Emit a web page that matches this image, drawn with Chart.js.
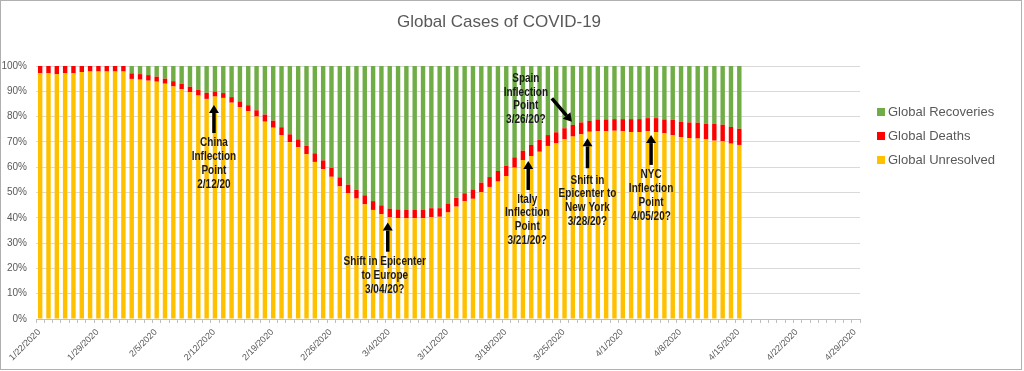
<!DOCTYPE html>
<html>
<head>
<meta charset="utf-8">
<script src="https://cdn.jsdelivr.net/npm/chart.js@4.4.0/dist/chart.umd.min.js"></script>
<style>
  html, body { margin: 0; padding: 0; background: #fff; }
  #wrap { width: 1024px; height: 371px; position: relative; }
</style>
</head>
<body>
<div id="wrap"><canvas id="chart"></canvas></div>
<script>
// days on the axis: 1/22/2020 .. 4/29/2020
let days = []
for (let d = new Date(2020, 0, 22); d <= new Date(2020, 3, 29); d.setDate(d.getDate() + 1)) {
    days.push((d.getMonth() + 1) + '/' + d.getDate() + '/2020')
}
let tickLabels = ['1/22/2020', '1/29/2020', '2/5/2020', '2/12/2020', '2/19/2020', '2/26/2020', '3/4/2020',
    '3/11/2020', '3/18/2020', '3/25/2020', '4/1/2020', '4/8/2020', '4/15/2020', '4/22/2020', '4/29/2020']

// percent of cases, 1/22 .. 4/15
let unresolved = [97.1, 97.1, 96.7, 97.2, 97.1, 97.6, 97.8, 97.8, 97.8, 97.8, 97.8,
    94.9, 94.6, 94.2, 93.8, 93.0, 91.9, 90.8, 89.6, 88.3, 87.0, 87.9, 87.4, 85.5, 83.8, 82.1, 80.0, 78.0, 75.6,
    72.7, 69.9, 67.9, 65.1, 62.1, 59.2, 56.2, 52.4, 49.7, 47.6, 45.3, 43.1, 41.4, 40.2, 39.9, 39.8, 39.8, 39.8,
    40.3, 40.4, 42.1, 44.4, 46.6, 47.5, 50.1, 52.2, 54.3, 56.5, 59.8, 62.8, 64.4, 66.1, 68.4, 69.4, 71.0, 72.1,
    73.0, 74.0, 74.2, 74.2, 74.4, 74.2, 73.9, 73.9, 74.2, 73.9, 73.4, 72.7, 71.9, 71.5, 71.3, 71.0, 70.5, 70.2,
    69.3, 68.8]
let deaths = [2.9, 2.9, 3.3, 2.8, 2.9, 2.4, 2.2, 2.2, 2.2, 2.2, 2.2,
    2.2, 2.2, 2.2, 2.0, 2.0, 2.1, 2.2, 2.2, 2.3, 2.4, 2.0, 1.9, 2.2, 2.2, 2.4, 2.5, 2.8, 2.8,
    3.1, 3.1, 3.1, 3.3, 3.4, 3.5, 3.6, 3.6, 3.4, 3.5, 3.6, 3.5, 3.5, 3.4, 3.4, 3.4, 3.3, 3.4,
    3.5, 3.4, 3.5, 3.5, 3.1, 3.7, 3.8, 3.9, 4.2, 4.1, 4.1, 3.7, 4.4, 4.7, 4.3, 4.4, 4.4, 4.6,
    4.7, 4.3, 4.7, 4.7, 4.6, 4.8, 5.1, 5.1, 5.2, 5.5, 5.5, 6.0, 6.1, 6.2, 6.3, 6.2, 6.6, 6.6,
    6.6, 6.4]
let recoveries = [0, 0, 0, 0, 0, 0, 0, 0, 0, 0, 0,
    2.9, 3.2, 3.6, 4.2, 5.0, 6.0, 7.0, 8.2, 9.4, 10.6, 10.1, 10.7, 12.3, 14.0, 15.5, 17.5, 19.2, 21.6,
    24.2, 27.0, 29.0, 31.6, 34.5, 37.3, 40.2, 44.0, 46.9, 48.9, 51.1, 53.4, 55.1, 56.4, 56.7, 56.8, 56.9, 56.8,
    56.2, 56.2, 54.4, 52.1, 50.3, 48.8, 46.1, 43.9, 41.5, 39.4, 36.1, 33.5, 31.2, 29.2, 27.3, 26.2, 24.6, 23.3,
    22.3, 21.7, 21.1, 21.1, 21.0, 21.0, 21.0, 21.0, 20.6, 20.6, 21.1, 21.3, 22.0, 22.3, 22.4, 22.8, 22.9, 23.2,
    24.1, 24.8]

let notes = [
    { date: '2/12/2020', dx: -1, tip: 84.6, tail: 73.5, text: 69.7, tdx: -1, lines: ['China', 'Inflection', 'Point', '2/12/20'] },
    { date: '3/4/2020', dx: -2, tip: 38.1, tail: 26.6, text: 22.6, tdx: -5, lines: ['Shift in Epicenter', 'to Europe', '3/04/20?'] },
    { date: '3/21/2020', dx: -3, tip: 62.5, tail: 51.0, text: 47.4, tdx: -4, lines: ['Italy', 'Inflection', 'Point', '3/21/20?'] },
    { date: '3/26/2020', dx: -1, tip: 78.0, tail: 87.2, tailDx: -20, text: 95.1, tdx: -47, lines: ['Spain', 'Inflection', 'Point', '3/26/20?'] },
    { date: '3/28/2020', dx: -2, tip: 71.4, tail: 59.6, text: 54.9, tdx: -2, lines: ['Shift in', 'Epicenter to', 'New York', '3/28/20?'] },
    { date: '4/5/2020', dx: -5, tip: 72.7, tail: 60.9, text: 56.9, tdx: -5, lines: ['NYC', 'Inflection', 'Point', '4/05/20?'] },
]

let extras = {
    id: 'extras',
    afterDraw(chart) {
        let ctx = chart.ctx
        let xs = chart.scales.x, ys = chart.scales.y
        ctx.save()
        // title
        ctx.fillStyle = '#595959'
        ctx.font = '17px "Liberation Sans", Arial, sans-serif'
        ctx.textAlign = 'center'
        ctx.textBaseline = 'middle'
        ctx.fillText('Global Cases of COVID-19', 499, 22)

        // legend
        let items = [2, 1, 0]
        items.forEach((di, k) => {
            let ds = chart.data.datasets[di]
            let y = 112 + k * 24
            ctx.fillStyle = ds.backgroundColor
            ctx.fillRect(877, y - 4, 8, 8)
            ctx.fillStyle = '#595959'
            ctx.font = '13px "Liberation Sans", Arial, sans-serif'
            ctx.textAlign = 'left'
            ctx.fillText(ds.label, 888, y)
        })

        // notes with arrows
        notes.forEach(n => {
            let cx = xs.getPixelForValue(days.indexOf(n.date))
            let x1 = cx + n.dx, y1 = ys.getPixelForValue(n.tip)
            let x0 = cx + n.dx + (n.tailDx || 0), y0 = ys.getPixelForValue(n.tail)
            let ang = Math.atan2(y1 - y0, x1 - x0)
            let hl = 8, hw = 5
            let bx = x1 - hl * Math.cos(ang), by = y1 - hl * Math.sin(ang)
            ctx.strokeStyle = '#000'
            ctx.lineWidth = 3.5
            ctx.beginPath()
            ctx.moveTo(x0, y0)
            ctx.lineTo(bx, by)
            ctx.stroke()
            ctx.fillStyle = '#000'
            ctx.beginPath()
            ctx.moveTo(x1, y1)
            ctx.lineTo(bx + hw * Math.sin(ang), by - hw * Math.cos(ang))
            ctx.lineTo(bx - hw * Math.sin(ang), by + hw * Math.cos(ang))
            ctx.closePath()
            ctx.fill()

            // calibri-like narrow bold text
            ctx.fillStyle = '#1a1a1a'
            ctx.font = 'bold 12.5px "Liberation Sans", Arial, sans-serif'
            ctx.textAlign = 'center'
            let ty = ys.getPixelForValue(n.text)
            n.lines.forEach((l, i) => {
                ctx.save()
                ctx.translate(cx + n.tdx, ty + i * 13.8)
                ctx.scale(0.8, 1)
                ctx.fillText(l, 0, 0)
                ctx.restore()
            })
        })

        // outer border
        ctx.strokeStyle = '#b0b0b0'
        ctx.lineWidth = 1
        ctx.strokeRect(0.5, 0.5, 1021, 369)
        ctx.restore()
    }
}

let ctx = document.getElementById('chart').getContext('2d')
let covidChart = new Chart(ctx, {
    type: 'bar',
    data: {
        labels: days,
        datasets: [
            { label: 'Global Unresolved', data: unresolved, backgroundColor: '#FFC000' },
            { label: 'Global Deaths', data: deaths, backgroundColor: '#FF0000' },
            { label: 'Global Recoveries', data: recoveries, backgroundColor: '#70AD47' },
        ]
    },
    options: {
        responsive: true,
        maintainAspectRatio: false,
        animation: false,
        layout: { padding: { left: 0, right: 164, top: 66, bottom: 0 } },
        datasets: { bar: { categoryPercentage: 1, barPercentage: 0.53 } },
        plugins: { legend: { display: false }, tooltip: { enabled: false } },
        scales: {
            x: {
                stacked: true,
                afterFit(scale) { scale.height = 52 },
                grid: { display: true, drawOnChartArea: false, tickLength: 4, tickColor: '#bfbfbf', offset: true },
                border: { color: '#bfbfbf' },
                ticks: {
                    autoSkip: false,
                    maxRotation: 45,
                    minRotation: 45,
                    padding: 4,
                    labelOffset: -1,
                    color: '#595959',
                    font: { size: 9, family: '"Liberation Sans", Arial, sans-serif' },
                    callback(v) { let l = days[v]; return tickLabels.includes(l) ? l : '' }
                }
            },
            y: {
                stacked: true,
                min: 0,
                max: 100,
                afterFit(scale) { scale.width = 36 },
                grid: { color: '#d9d9d9', drawTicks: false },
                border: { display: false },
                ticks: {
                    stepSize: 10,
                    padding: 9,
                    color: '#595959',
                    font: { size: 10, family: '"Liberation Sans", Arial, sans-serif' },
                    callback(v) { return v + '%' }
                }
            }
        }
    },
    plugins: [extras]
})
</script>
</body>
</html>
